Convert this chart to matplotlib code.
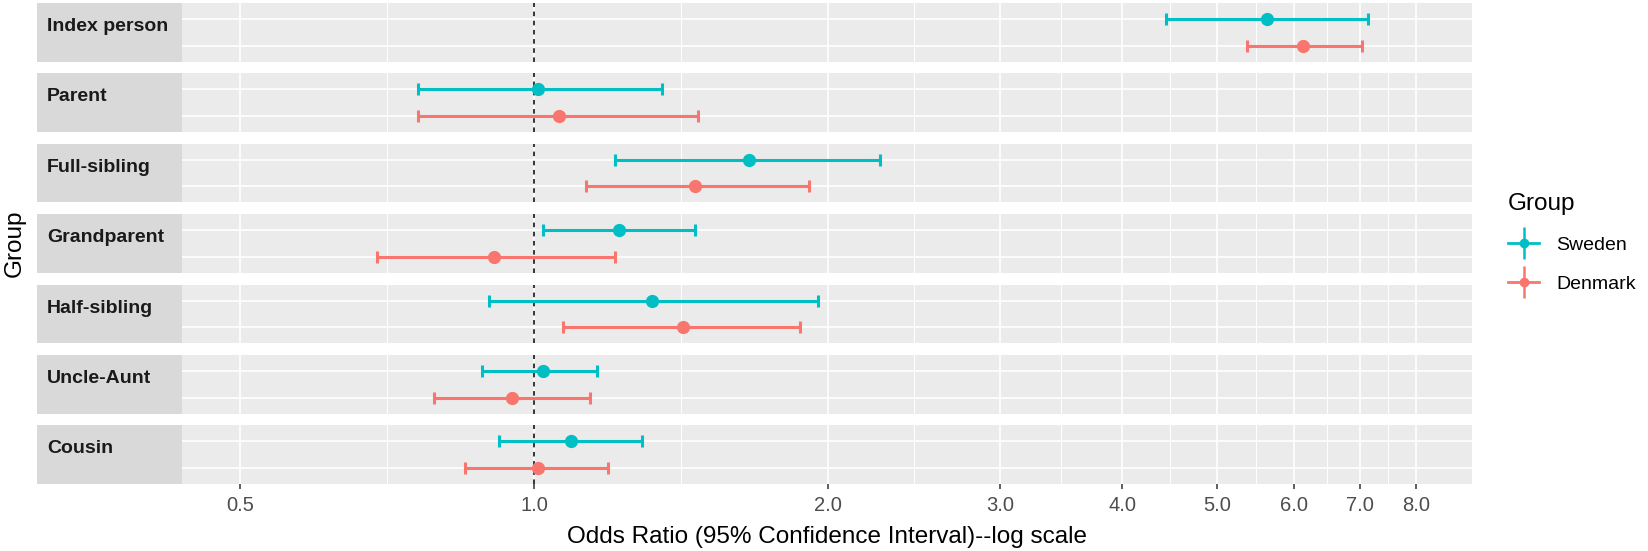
import numpy as np
import matplotlib
matplotlib.use("Agg")
import matplotlib.pyplot as plt
from matplotlib.lines import Line2D
from matplotlib.patches import Rectangle
from matplotlib.ticker import FixedLocator, NullFormatter

plt.rcParams['font.family'] = ['Liberation Sans', 'DejaVu Sans']

# odds ratios (point, lower CI, upper CI)
groups = ["Index person", "Parent", "Full-sibling", "Grandparent",
          "Half-sibling", "Uncle-Aunt", "Cousin"]
sweden_or = [5.62, 1.01, 1.66, 1.22, 1.32, 1.02, 1.09]
sweden_lo = [4.43, 0.76, 1.21, 1.02, 0.90, 0.885, 0.92]
sweden_hi = [7.14, 1.35, 2.26, 1.46, 1.95, 1.16, 1.29]
denmark_or = [6.12, 1.06, 1.46, 0.91, 1.42, 0.95, 1.01]
denmark_lo = [5.36, 0.76, 1.13, 0.69, 1.07, 0.79, 0.85]
denmark_hi = [7.04, 1.47, 1.91, 1.21, 1.87, 1.14, 1.19]

x_breaks = [0.5, 1.0, 2.0, 3.0, 4.0, 5.0, 6.0, 7.0, 8.0]
x_labels = ["0.5", "1.0", "2.0", "3.0", "4.0", "5.0", "6.0", "7.0", "8.0"]

SWEDEN_COL = '#00BFC4'
DENMARK_COL = '#F8766D'
PANEL_BG = '#EBEBEB'
STRIP_BG = '#D9D9D9'

W, H = 1648, 551
fig = plt.figure(figsize=(W / 100, H / 100), dpi=100)
panel_left, panel_right = 182 / W, 1472 / W
gs = fig.add_gridspec(len(groups), 1, left=panel_left, right=panel_right,
                      top=1 - 3 / H, bottom=1 - 484 / H, hspace=0.2)

# minor gridlines sit halfway between breaks on the log scale
minor_breaks = np.sqrt(np.array(x_breaks[:-1]) * np.array(x_breaks[1:]))
strip_x0 = (37 - 182) / (1472 - 182)
text_x = (47 - 182) / (1472 - 182)

for i, grp in enumerate(groups):
    ax = fig.add_subplot(gs[i])
    ax.set_facecolor(PANEL_BG)
    for s in ax.spines.values():
        s.set_visible(False)
    ax.set_xscale('log')
    ax.set_xlim(0.436, 9.12)
    ax.set_ylim(0.4, 2.6)
    ax.xaxis.set_major_locator(FixedLocator(x_breaks))
    ax.xaxis.set_minor_locator(FixedLocator(minor_breaks))
    ax.xaxis.set_minor_formatter(NullFormatter())
    ax.set_yticks([1, 2])
    ax.set_yticklabels([])
    ax.tick_params(axis='y', length=0)
    ax.tick_params(axis='x', which='minor', length=0)
    ax.grid(which='major', color='white', lw=1.2)
    ax.grid(which='minor', axis='x', color='white', lw=0.7)
    ax.set_axisbelow(True)

    ax.axvline(1.0, color='black', lw=1.1, ls=(0, (3, 3)), zorder=2)

    ax.errorbar(sweden_or[i], 2,
                xerr=[[sweden_or[i] - sweden_lo[i]], [sweden_hi[i] - sweden_or[i]]],
                fmt='o', color=SWEDEN_COL, ms=8.5, elinewidth=2.2, capsize=4,
                capthick=2.2, zorder=3)
    ax.errorbar(denmark_or[i], 1,
                xerr=[[denmark_or[i] - denmark_lo[i]], [denmark_hi[i] - denmark_or[i]]],
                fmt='o', color=DENMARK_COL, ms=8.5, elinewidth=2.2, capsize=4,
                capthick=2.2, zorder=3)

    # facet strip on the left
    ax.add_patch(Rectangle((strip_x0, 0), -strip_x0, 1, transform=ax.transAxes,
                           facecolor=STRIP_BG, edgecolor='none', clip_on=False))
    ax.text(text_x, 0.6, grp, transform=ax.transAxes, ha='left', va='center',
            fontsize=14, fontweight='bold', color='#1A1A1A')

    if i == len(groups) - 1:
        ax.set_xticklabels(x_labels)
        ax.tick_params(axis='x', which='major', length=3.6, width=1.1,
                       color='#333333', labelsize=14.5, labelcolor='#4D4D4D', pad=5)
    else:
        ax.set_xticklabels([])
        ax.tick_params(axis='x', which='major', length=0)

fig.text((panel_left + panel_right) / 2, 1 - 537 / H,
         "Odds Ratio (95% Confidence Interval)--log scale",
         ha='center', va='center', fontsize=17.5)
fig.text(15 / W, 1 - 243 / H, "Group", rotation=90, ha='center', va='center',
         fontsize=17.5)

handles = []
for col in [SWEDEN_COL, DENMARK_COL]:
    h_line = Line2D([], [], color=col, lw=2, marker='o', ms=6)
    v_line = Line2D([], [], color=col, marker='|', ms=23, mew=1.8, ls='none')
    handles.append((h_line, v_line))
fig.legend(handles, ["Sweden", "Denmark"], title="Group", loc='center left',
           bbox_to_anchor=(1508 / W, 1 - 243 / H), frameon=False, fontsize=14,
           title_fontsize=17.5, alignment='left', handlelength=1.6,
           handletextpad=0.9, labelspacing=1.1, borderpad=0, borderaxespad=0)

fig.savefig("out.png", dpi=100)
